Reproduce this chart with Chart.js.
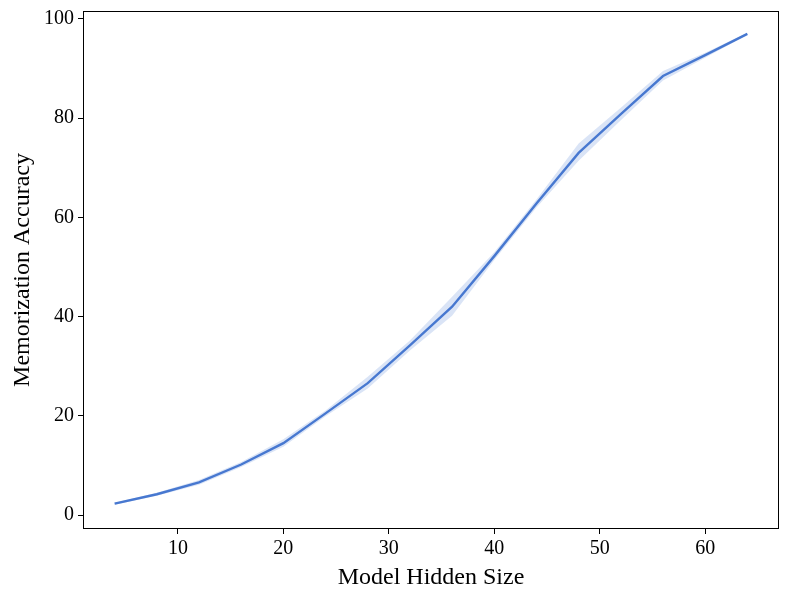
<!DOCTYPE html>
<html>
<head>
<meta charset="utf-8">
<script src="https://cdn.jsdelivr.net/npm/chart.js@4"></script>
<style>
  html, body { margin: 0; padding: 0; background: #fff; }
  #wrap { width: 790px; height: 600px; }
</style>
</head>
<body>
<div id="wrap"><canvas id="chart"></canvas></div>
<script>
// hidden sizes and mean accuracy, with the shaded band around it
const HiddenSizes = [4, 8, 12, 16, 20, 24, 28, 32, 36, 40, 44, 48, 52, 56, 60, 64]
const Accuracy    = [2.3, 4.2, 6.6, 10.2, 14.5, 20.5, 26.6, 34.2, 42.0, 52.2, 62.8, 73.0, 80.8, 88.5, 92.7, 97.0]
const BandLow     = [2.1, 3.9, 6.1, 9.7, 13.8, 19.9, 25.5, 33.2, 40.2, 51.4, 62.0, 71.4, 79.6, 87.6, 92.2, 96.8]
const BandHigh    = [2.5, 4.5, 7.1, 10.7, 15.3, 21.1, 27.9, 35.2, 44.0, 53.0, 63.6, 74.9, 82.1, 89.5, 93.2, 97.2]
const XTicks = [10, 20, 30, 40, 50, 60]
const YTicks = [0, 20, 40, 60, 80, 100]

const LineColor = "#4878d0"
const BandColor = "rgba(72, 120, 208, 0.2)"
const Font = "'Liberation Serif', 'Times New Roman', serif"

function Points(Values){
    return HiddenSizes.map(function(X, I){ return {x: X, y: Values[I]} })
}

const BoxPlugin = {
    id: "box",
    afterDraw(chart){
        const {ctx, chartArea} = chart
        ctx.save()
        ctx.strokeStyle = "#000"
        ctx.lineWidth = 1
        ctx.strokeRect(chartArea.left + 0.5, chartArea.top + 0.5, chartArea.right - chartArea.left - 1, chartArea.bottom - chartArea.top - 1)
        ctx.restore()
    }
}

new Chart(document.getElementById("chart"), {
    type: "line",
    data: {
        datasets: [
            {data: Points(BandLow), borderWidth: 0, pointRadius: 0, fill: false},
            {data: Points(BandHigh), borderWidth: 0, pointRadius: 0, fill: "-1", backgroundColor: BandColor},
            {data: Points(Accuracy), borderColor: LineColor, borderWidth: 2.4, pointRadius: 0, fill: false}
        ]
    },
    options: {
        responsive: true,
        maintainAspectRatio: false,
        animation: false,
        layout: {padding: {top: 11, right: 11, left: 0, bottom: 0}},
        plugins: {legend: {display: false}, tooltip: {enabled: false}},
        scales: {
            x: {
                type: "linear",
                min: 1,
                max: 67,
                afterBuildTicks: function(Scale){ Scale.ticks = XTicks.map(function(V){ return {value: V} }) },
                afterFit: function(Scale){ Scale.height = 71; Scale.paddingLeft = 0; Scale.paddingRight = 0 },
                grid: {display: true, drawOnChartArea: false, color: "#000", tickLength: 5, tickWidth: 1},
                border: {display: false},
                ticks: {color: "#000", font: {family: Font, size: 20}, padding: 3, maxRotation: 0},
                title: {display: true, text: "Model Hidden Size", color: "#000", font: {family: Font, size: 24}, padding: {top: 0, bottom: 8}}
            },
            y: {
                min: -2.8,
                max: 101.6,
                afterBuildTicks: function(Scale){ Scale.ticks = YTicks.map(function(V){ return {value: V} }) },
                afterFit: function(Scale){ Scale.width = 83; Scale.paddingTop = 0; Scale.paddingBottom = 0 },
                grid: {display: true, drawOnChartArea: false, color: "#000", tickLength: 5, tickWidth: 1},
                border: {display: false},
                ticks: {color: "#000", font: {family: Font, size: 20}, padding: 4},
                title: {display: true, text: "Memorization Accuracy", color: "#000", font: {family: Font, size: 24}, padding: {top: 8, bottom: 0}}
            }
        }
    },
    plugins: [BoxPlugin]
})
</script>
</body>
</html>
